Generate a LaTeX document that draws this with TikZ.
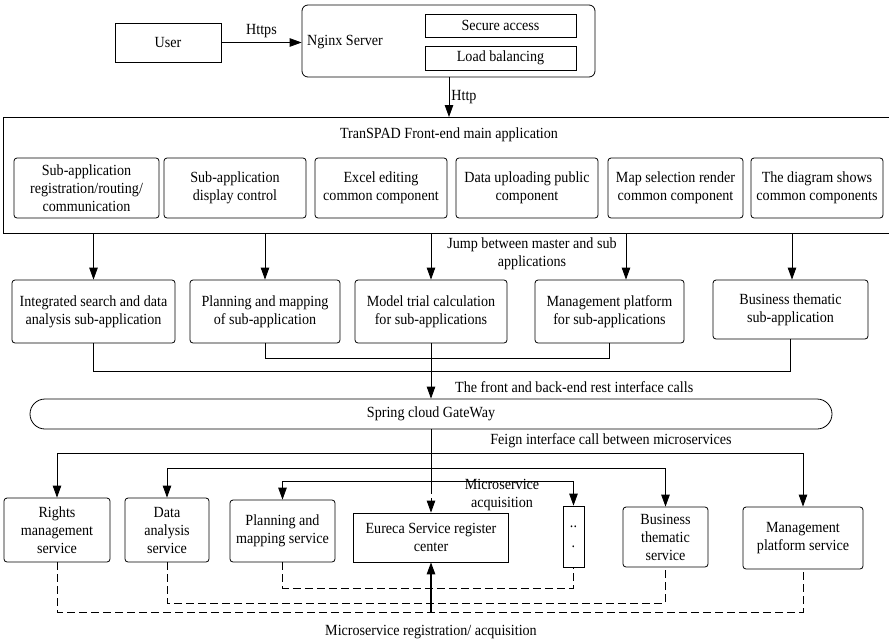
\documentclass[tikz,border=0pt]{standalone}
\usepackage{fontspec}
\setmainfont{Liberation Serif}[FakeStretch=0.91]
\usetikzlibrary{arrows.meta}
\begin{document}
\begin{tikzpicture}[x=1pt,y=-1pt,
  every node/.style={font=\rmfamily\fontsize{15.5}{18}\selectfont, inner sep=0pt, align=center},
  sz/.style 2 args={minimum width=#1pt, minimum height=#2pt},
  box/.style={draw, line width=0.8pt},
  rbox/.style={draw, line width=0.8pt, rounded corners=3pt},
  ln/.style={line width=0.8pt},
  arr/.style={line width=0.8pt, -{Triangle[length=12pt,width=8.5pt]}},
  dsh/.style={line width=0.8pt, dash pattern=on 8pt off 4pt}]
\useasboundingbox (0,0) rectangle (889,643);

% top
\node[box, sz={106}{39}] (user) at (168,42.5) {User};
\node[draw, line width=0.8pt, rounded corners=6pt, sz={293}{72}] (nginx) at (448.5,41) {};
\node[anchor=west] (nginxt) at (307,42) {Nginx Server};
\node[box, sz={151}{23}] (secure) at (500.5,25.5) {Secure access};
\node[box, sz={151}{24}] (load) at (500.5,58) {Load balancing};
\draw[arr] (user) -- (nginx.west |- user) node[midway, above=4pt] (https) {Https};

% main frame
\draw[line width=1pt] (889,117) -- (3,117) -- (3,233) -- (889,233);
\coordinate (ft) at (0,117);
\coordinate (fb) at (0,233);
\draw[arr] ([xshift=0.5pt]nginx.south) -- ([xshift=0.5pt]nginx.south |- ft) node[midway, right=2pt] (http) {Http};
\node (title) at (449,135) {TranSPAD Front-end main application};

\node[rbox, sz={145}{60}] (c1) at (86.5,188) {Sub-application\\registration/routing/\\communication};
\node[rbox, sz={142}{60}] (c2) at (235,188) {Sub-application\\display control};
\node[rbox, sz={132}{60}] (c3) at (381,188) {Excel editing\\common component};
\node[rbox, sz={142}{60}] (c4) at (527,188) {Data uploading public\\component};
\node[rbox, sz={135}{60}] (c5) at (675.5,188) {Map selection render\\common component};
\node[rbox, sz={132}{60}] (c6) at (817,188) {The diagram shows\\common components};

% sub applications
\node[rbox, sz={163}{63}] (sA) at (93.5,311.5) {Integrated search and data\\analysis sub-application};
\node[rbox, sz={150}{63}] (sB) at (265,311.5) {Planning and mapping\\of sub-application};
\node[rbox, sz={152}{63}] (sC) at (431,311.5) {Model trial calculation\\for sub-applications};
\node[rbox, sz={149}{63}] (sD) at (609.5,311.5) {Management platform\\for sub-applications};
\node[rbox, sz={155}{59}] (sE) at (790.5,309.5) {Business thematic\\sub-application};

\draw[arr] (sA.north |- fb) -- (sA.north);
\draw[arr] (sB.north |- fb) -- (sB.north);
\draw[arr] (sC.north |- fb) -- (sC.north);
\draw[arr] ([xshift=16.5pt]sD.north |- fb) -- ([xshift=16.5pt]sD.north);
\draw[arr] ([xshift=1.5pt]sE.north |- fb) -- ([xshift=1.5pt]sE.north);
\node (jump) at (532,254) {Jump between master and sub\\applications};

\coordinate (l1) at (0,371);
\coordinate (l2) at (0,358);
\draw[ln] (sA.south) -- (sA.south |- l1) -| (sE.south);
\draw[ln] (sB.south) -- (sB.south |- l2) -| (sD.south);

% gateway
\node[draw, line width=0.8pt, rounded corners=15pt, sz={802}{30}] (gw) at (431,414) {Spring cloud GateWay};
\draw[arr] (sC.south) -- (gw.north);
\node[anchor=west] (rest) at (455,387) {The front and back-end rest interface calls};
\node (feign) at (611,441) {Feign interface call between microservices};

% services
\node[rbox, sz={106}{64}] (rights) at (57,530) {Rights\\management\\service};
\node[rbox, sz={84}{64}] (data) at (167,530) {Data\\analysis\\service};
\node[rbox, sz={105}{62}] (plan) at (282.5,531) {Planning and\\mapping service};
\node[box, sz={155}{49}] (eur) at (431,537.5) {Eureca Service register\\center};
\node[box, sz={21}{61}] (dots) at (573.5,536.5) {..\\[2pt].};
\node[rbox, sz={85}{60}] (biz) at (665.5,537) {Business\\thematic\\service};
\node[rbox, sz={120}{62}] (mgmt) at (803,538) {Management\\platform service};

\coordinate (b1) at (0,453);
\coordinate (b2) at (0,468);
\coordinate (b3) at (0,481);
\coordinate (tr) at (431,484);
\draw[ln] (gw.south) -- (tr);
\draw[arr, dash pattern=on 10pt off 4pt] (tr) -- (eur.north);
\draw[arr] (gw.south |- b1) -| (rights.north);
\draw[arr] (gw.south |- b1) -| (mgmt.north);
\draw[arr] (gw.south |- b2) -| (data.north);
\draw[arr] (gw.south |- b2) -| (biz.north);
\draw[arr] (gw.south |- b3) -| (plan.north);
\draw[arr] (gw.south |- b3) -| (dots.north);
\node (acq) at (502,495) {Microservice\\acquisition};

% registration
\coordinate (d1) at (0,588);
\coordinate (d2) at (0,603);
\coordinate (d3) at (0,612);
\draw[dsh] (plan.south) -- (plan.south |- d1) -| (dots.south);
\draw[dsh] (data.south) -- (data.south |- d2) -| (biz.south);
\draw[dsh] (rights.south) -- (rights.south |- d3) -| (mgmt.south);
\draw[arr, line width=1.2pt] (eur.south |- d3) -- (eur.south);
\node (reg) at (431,632) {Microservice registration/ acquisition};
\end{tikzpicture}
\end{document}
